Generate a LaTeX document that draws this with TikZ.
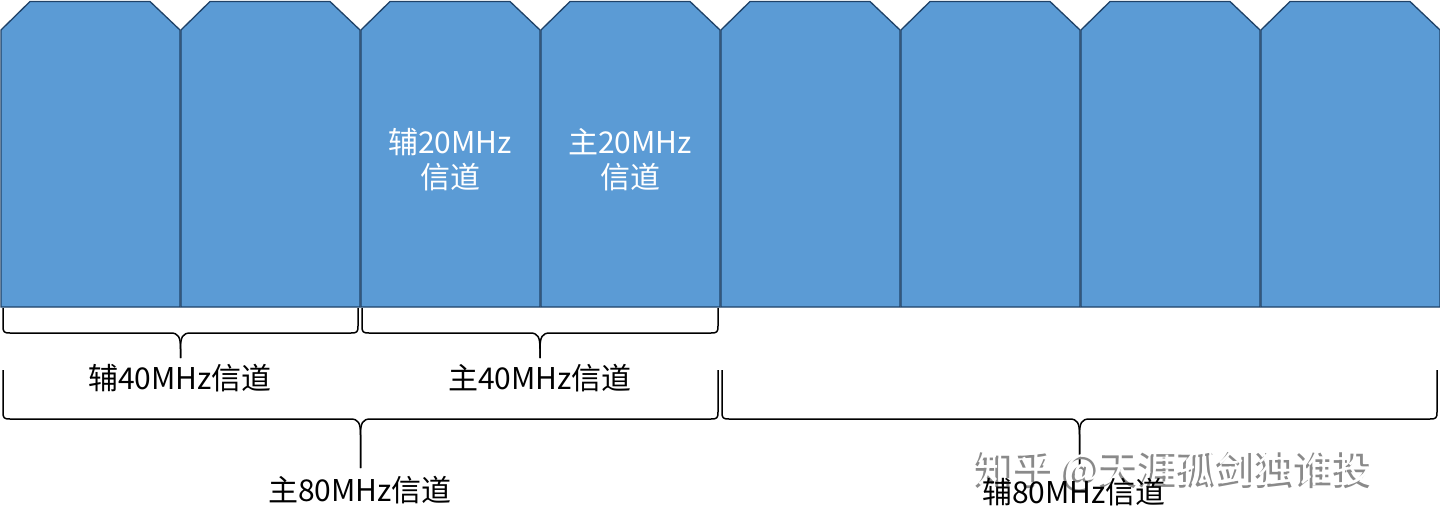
\documentclass[tikz,border=0pt]{standalone}
\usepackage{fontspec}
\setmainfont{Noto Sans CJK SC}
\begin{document}
\begin{tikzpicture}[x=1pt,y=-1pt,
  chan/.style={fill=chfill,draw=chline,line width=1.3pt,line join=miter},
  brc/.style={draw=black,line width=1.5pt,line join=round},
  lbl/.style={font=\fontsize{30}{35}\selectfont,text=black,inner sep=0pt,align=center},
  inlbl/.style={font=\fontsize{30}{35}\selectfont,text=white,inner sep=0pt,align=center},
  wm/.style={font=\fontsize{39}{40}\selectfont,inner sep=0pt}]
\definecolor{chfill}{HTML}{5B9BD5}
\definecolor{chline}{HTML}{1F4268}
\definecolor{wmgray}{HTML}{8A8A8A}
\useasboundingbox (0,0) rectangle (1440,528);
\fill[white] (0,0) rectangle (1440,528);
% channel blocks
\foreach \i in {0,...,7}{
  \pgfmathsetmacro\xa{\i*180+1}
  \pgfmathsetmacro\xb{\i*180+180}
  \draw[chan] (\xa,307) -- (\xa,30) -- (\xa+29,1.5) -- (\xb-30,1.5) -- (\xb,30) -- (\xb,307) -- cycle;
}
% inner labels
\node[inlbl] (s20) at (450,160) {辅20MHz\\信道};
\node[inlbl] (p20) at (630,160) {主20MHz\\信道};
% brace macro: x1 x2 ytop yh ytip
\newcommand{\chbrace}[5]{%
  \pgfmathsetmacro\bxm{(#1+#2)/2}%
  \draw[brc] (#1,#3) -- (#1,#4-7) .. controls (#1,#4-1) and (#1+1,#4) .. (#1+7,#4)
     -- (\bxm-10,#4) .. controls (\bxm-2,#4) and (\bxm,#4+4) .. (\bxm,#4+16) -- (\bxm,#5);
  \draw[brc] (#2,#3) -- (#2,#4-7) .. controls (#2,#4-1) and (#2-1,#4) .. (#2-7,#4)
     -- (\bxm+10,#4) .. controls (\bxm+2,#4) and (\bxm,#4+4) .. (\bxm,#4+16) -- (\bxm,#5);
}
\chbrace{3}{358}{308}{333}{358}
\chbrace{362}{718}{308}{333}{358}
\chbrace{3}{718}{370}{419}{468}
\chbrace{722}{1437}{370}{419}{468}
% labels
\node[lbl] (s40) at (180,378) {辅40MHz信道};
\node[lbl] (p40) at (540,378) {主40MHz信道};
\node[lbl] (p80) at (360,490) {主80MHz信道};
% watermark
\node[wm,text=wmgray] (wms) at (1173,472) {知乎 @天涯孤剑独谁投};
\node[wm,text=white] (wmt) at (1176,469) {知乎 @天涯孤剑独谁投};
\node[lbl] (s80) at (1074,492) {辅80MHz信道};
\end{tikzpicture}
\end{document}
